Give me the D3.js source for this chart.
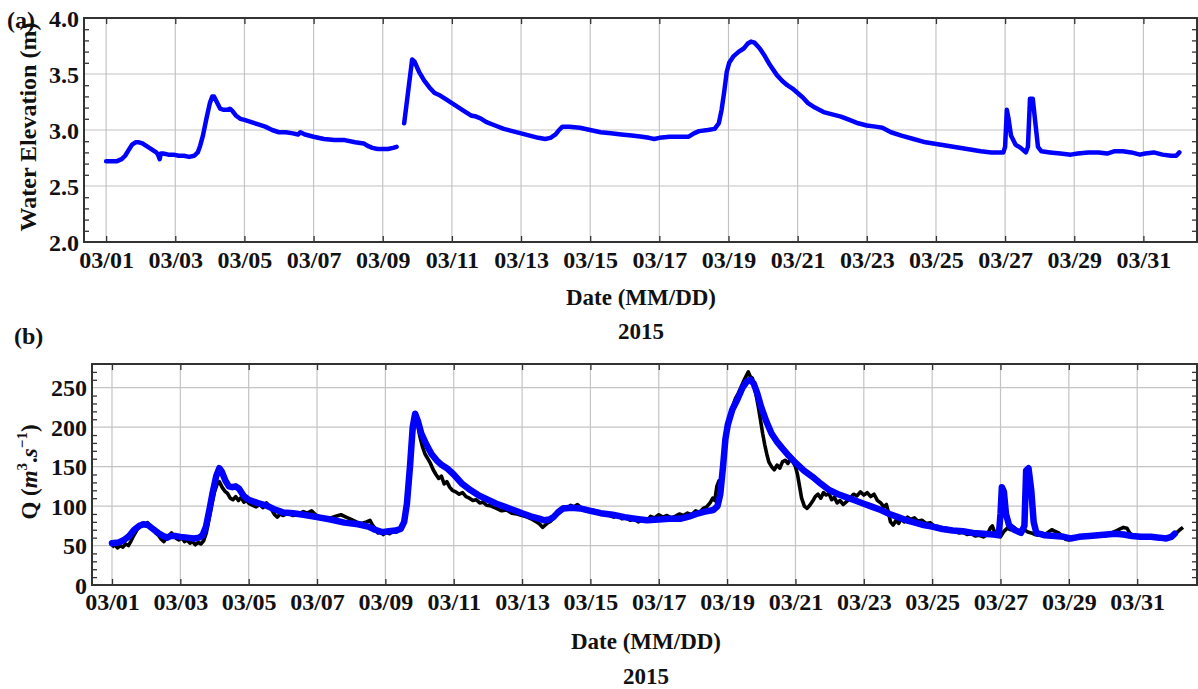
<!DOCTYPE html>
<html><head><meta charset="utf-8">
<script src="https://cdn.jsdelivr.net/npm/d3@7"></script>
<style>
body{margin:0;background:#fff}
svg{display:block}
text{font-family:"Liberation Serif","Times New Roman",serif;font-weight:bold;fill:#111}
</style>
</head><body>
<svg id="c" width="1198" height="689"></svg>
<script>
// ---------------- data ----------------
const dateTickLabels = ["03/01","03/03","03/05","03/07","03/09","03/11","03/13","03/15","03/17","03/19","03/21","03/23","03/25","03/27","03/29","03/31"];
const elevTicks = [2.0, 2.5, 3.0, 3.5, 4.0];
const qTicks = [0, 50, 100, 150, 200, 250];
const yearLabel = "2015";

// days since 03/01 00:00 ; null = gap in record
const elevDays = [0.00,0.15,0.30,0.45,0.55,0.65,0.75,0.85,0.95,1.05,1.15,1.25,1.35,1.45,1.50,1.55,1.58,1.65,1.80,1.95,2.10,2.25,2.40,2.55,2.65,2.72,2.80,2.90,3.00,3.07,3.12,3.20,3.30,3.40,3.50,3.58,3.65,3.75,3.88,4.00,4.20,4.40,4.60,4.80,5.00,5.20,5.40,5.55,5.62,5.75,6.00,6.30,6.60,6.90,7.20,7.45,7.55,7.70,7.85,8.00,8.15,8.30,8.40,
  8.50,
  8.62,8.85,8.92,9.05,9.20,9.35,9.50,9.65,9.80,10.00,10.20,10.40,10.55,10.70,10.85,11.00,11.25,11.50,11.75,12.00,12.25,12.50,12.70,12.85,13.00,13.10,13.20,13.40,13.70,14.00,14.30,14.60,14.90,15.20,15.50,15.70,15.85,16.00,16.30,16.60,16.85,17.00,17.15,17.40,17.60,17.72,17.80,17.88,17.95,18.02,18.15,18.30,18.45,18.55,18.65,18.75,18.90,19.05,19.20,19.40,19.55,19.70,19.85,20.00,20.15,20.30,20.50,20.75,21.00,21.25,21.50,21.75,22.00,22.25,22.45,22.70,23.00,23.35,23.70,24.10,24.50,24.90,25.30,25.60,25.95,26.00,26.05,26.10,26.17,26.30,26.45,26.60,26.66,26.72,26.80,26.88,26.95,27.05,27.30,27.60,27.90,28.10,28.40,28.70,28.95,29.15,29.40,29.65,29.90,30.05,30.30,30.55,30.80,30.95,31.04];
const elevValues = [2.72,2.72,2.72,2.74,2.77,2.82,2.87,2.89,2.89,2.88,2.86,2.84,2.82,2.80,2.78,2.74,2.79,2.79,2.78,2.78,2.77,2.77,2.76,2.77,2.80,2.86,2.95,3.10,3.24,3.30,3.30,3.25,3.19,3.18,3.18,3.19,3.17,3.13,3.10,3.09,3.07,3.05,3.03,3.00,2.98,2.98,2.97,2.96,2.98,2.96,2.94,2.92,2.91,2.91,2.89,2.88,2.86,2.84,2.83,2.83,2.83,2.84,2.85,
  null,
  3.06,3.63,3.61,3.52,3.44,3.38,3.33,3.31,3.28,3.24,3.20,3.16,3.13,3.12,3.10,3.07,3.04,3.01,2.99,2.97,2.95,2.93,2.92,2.93,2.96,3.00,3.03,3.03,3.02,3.00,2.98,2.97,2.96,2.95,2.94,2.93,2.92,2.93,2.94,2.94,2.94,2.97,2.99,3.00,3.01,3.06,3.18,3.35,3.52,3.60,3.66,3.70,3.73,3.77,3.79,3.78,3.73,3.66,3.58,3.49,3.44,3.40,3.37,3.33,3.29,3.24,3.20,3.16,3.14,3.12,3.09,3.06,3.04,3.03,3.02,2.98,2.95,2.92,2.89,2.87,2.85,2.83,2.81,2.80,2.80,2.85,3.18,3.10,2.95,2.87,2.84,2.80,2.85,3.28,3.28,3.05,2.85,2.81,2.80,2.79,2.78,2.79,2.80,2.80,2.79,2.81,2.81,2.80,2.78,2.79,2.80,2.78,2.77,2.77,2.80];

const obsDays = [0.00,0.08,0.16,0.24,0.32,0.40,0.48,0.56,0.64,0.72,0.80,0.88,0.96,1.04,1.12,1.20,1.28,1.36,1.44,1.52,1.58,1.66,1.74,1.80,1.88,1.96,2.04,2.12,2.20,2.28,2.36,2.44,2.52,2.60,2.68,2.76,2.84,2.92,3.00,3.08,3.14,3.22,3.30,3.38,3.46,3.54,3.62,3.70,3.78,3.86,3.94,4.02,4.12,4.22,4.32,4.42,4.52,4.60,4.68,4.76,4.84,4.92,5.00,5.15,5.30,5.45,5.60,5.72,5.84,5.96,6.10,6.25,6.40,6.55,6.70,6.85,7.00,7.15,7.30,7.45,7.55,7.62,7.70,7.78,7.86,7.94,8.02,8.12,8.22,8.32,8.42,8.50,8.58,8.64,8.70,8.76,8.82,8.88,8.94,9.00,9.08,9.16,9.24,9.32,9.40,9.48,9.56,9.64,9.72,9.80,9.88,9.96,10.06,10.16,10.26,10.36,10.46,10.56,10.66,10.76,10.86,10.96,11.10,11.25,11.40,11.55,11.70,11.85,12.00,12.15,12.30,12.42,12.52,12.60,12.68,12.76,12.84,12.92,13.02,13.12,13.22,13.32,13.42,13.52,13.62,13.72,13.84,13.96,14.08,14.20,14.32,14.44,14.56,14.68,14.80,14.92,15.04,15.16,15.28,15.40,15.52,15.64,15.76,15.88,16.00,16.12,16.24,16.36,16.48,16.60,16.72,16.84,16.96,17.08,17.20,17.30,17.40,17.50,17.58,17.64,17.70,17.76,17.82,17.88,17.94,18.00,18.08,18.16,18.24,18.32,18.40,18.48,18.56,18.62,18.68,18.74,18.80,18.86,18.92,18.98,19.04,19.10,19.16,19.22,19.30,19.38,19.46,19.54,19.62,19.70,19.78,19.86,19.94,20.00,20.06,20.12,20.18,20.26,20.34,20.42,20.50,20.58,20.66,20.74,20.82,20.90,20.98,21.06,21.14,21.22,21.30,21.40,21.50,21.60,21.70,21.80,21.90,22.00,22.10,22.20,22.30,22.40,22.50,22.58,22.66,22.72,22.78,22.86,22.94,23.02,23.10,23.18,23.28,23.38,23.48,23.58,23.70,23.82,23.94,24.06,24.18,24.30,24.42,24.54,24.66,24.78,24.90,25.02,25.14,25.26,25.38,25.50,25.62,25.70,25.76,25.82,25.90,26.00,26.10,26.20,26.30,26.40,26.50,26.60,26.70,26.80,26.90,27.00,27.10,27.20,27.30,27.40,27.50,27.60,27.70,27.80,27.90,28.00,28.10,28.20,28.30,28.45,28.60,28.75,28.90,29.05,29.20,29.30,29.40,29.50,29.60,29.70,29.78,29.86,29.94,30.05,30.20,30.35,30.50,30.65,30.80,30.95,31.05,31.15,31.25,31.34];
const obsValues = [48,51,47,50,48,52,50,56,63,69,74,78,76,79,75,71,66,63,58,55,59,62,66,63,59,57,60,55,57,53,55,51,54,52,56,66,84,102,118,128,131,124,119,116,110,108,112,107,111,105,107,103,101,99,102,98,104,100,95,89,86,90,88,91,88,90,93,91,94,89,86,84,85,87,89,86,83,80,78,80,82,76,72,66,69,64,67,65,68,67,71,76,85,100,128,165,195,212,204,190,176,166,160,154,146,140,135,138,128,131,124,120,118,115,117,112,110,107,108,104,105,101,100,97,94,95,91,90,88,86,83,80,77,73,76,79,81,85,90,95,99,97,101,99,102,98,97,94,95,92,90,91,88,86,89,84,85,82,84,80,83,81,87,85,89,86,88,85,87,90,88,91,89,94,92,97,99,104,110,107,125,132,122,150,178,195,212,226,236,242,250,258,265,270,264,262,250,238,224,208,192,178,166,156,150,146,152,148,156,158,154,160,155,150,140,125,110,100,97,101,106,112,115,110,117,114,116,108,111,104,107,102,106,110,115,113,118,114,117,112,115,107,104,99,102,92,80,76,82,78,84,80,86,83,85,81,82,78,79,75,74,71,72,68,69,66,67,64,65,62,63,61,64,72,75,68,63,61,68,72,70,73,68,66,70,67,66,64,63,66,64,67,70,68,66,62,58,57,60,61,60,62,63,62,64,62,64,67,69,71,73,72,66,63,61,62,61,60,61,60,59,60,64,66,70,73];

const modelDays = [0.00,0.20,0.35,0.50,0.65,0.80,0.92,1.05,1.20,1.35,1.50,1.62,1.70,1.85,2.00,2.20,2.40,2.55,2.65,2.75,2.85,2.95,3.05,3.14,3.22,3.32,3.42,3.52,3.62,3.72,3.85,4.00,4.25,4.50,4.75,5.00,5.30,5.60,6.00,6.40,6.80,7.20,7.50,7.70,7.90,8.10,8.30,8.45,8.55,8.63,8.72,8.80,8.87,8.95,9.05,9.20,9.35,9.50,9.65,9.80,10.00,10.25,10.50,10.75,11.00,11.25,11.50,11.75,12.00,12.25,12.50,12.65,12.80,12.92,13.05,13.20,13.45,13.70,14.00,14.30,14.65,15.00,15.30,15.65,16.00,16.30,16.65,16.90,17.10,17.35,17.60,17.72,17.80,17.88,17.95,18.02,18.15,18.30,18.45,18.58,18.68,18.78,18.88,19.00,19.15,19.30,19.45,19.60,19.80,20.00,20.25,20.50,20.75,21.00,21.25,21.50,21.75,22.00,22.25,22.50,22.75,23.00,23.25,23.50,23.75,24.00,24.30,24.60,24.90,25.20,25.50,25.80,25.95,26.00,26.04,26.10,26.16,26.25,26.40,26.60,26.70,26.75,26.82,26.90,26.97,27.05,27.30,27.60,27.85,28.05,28.30,28.60,28.85,29.10,29.35,29.60,29.85,30.10,30.40,30.65,30.85,31.00,31.10];
const modelValues = [53,54,57,62,70,75,77,76,71,66,62,60,62,62,61,60,59,60,63,74,95,118,138,148,143,132,125,124,125,122,113,108,104,101,96,92,91,89,86,83,79,77,74,70,67,68,69,71,80,103,150,200,217,208,192,178,166,158,152,148,140,128,120,113,108,103,99,95,91,87,84,82,83,86,92,97,98,97,94,91,89,86,84,82,83,84,84,87,90,93,95,100,115,150,185,203,222,235,250,258,260,255,243,225,207,192,182,174,164,155,145,137,128,120,115,111,107,103,99,95,90,86,82,79,76,74,71,69,68,66,65,64,63,90,124,118,90,76,70,66,75,145,148,120,80,66,63,62,61,59,61,62,63,64,65,64,62,61,61,60,59,61,65];

// ---------------- drawing ----------------
const svg = d3.select("#c");
const FS = 24;

function panel(cfg){
  const {L,R,T,B,xDom,yDom,yTicks,yMinor,yFmt,xPad} = cfg;
  const x = d3.scaleLinear().domain(xDom).range([L,R]);
  const y = d3.scaleLinear().domain(yDom).range([B,T]);
  const tickDays = dateTickLabels.map(s=>+s.split("/")[1]-1);
  const g = svg.append("g");

  // grid
  g.append("g").selectAll("line").data(tickDays).join("line")
    .attr("x1",d=>x(d)).attr("x2",d=>x(d)).attr("y1",T).attr("y2",B)
    .attr("stroke","#c4c4c4").attr("stroke-width",1.2);
  g.append("g").selectAll("line").data(yTicks).join("line")
    .attr("x1",L).attr("x2",R).attr("y1",d=>y(d)).attr("y2",d=>y(d))
    .attr("stroke","#c4c4c4").attr("stroke-width",1.2);

  cfg.draw(g,x,y);

  // axes with inward ticks
  const tcol="#333";
  const left = g.append("g").attr("transform",`translate(${L},0)`)
    .call(d3.axisLeft(y).tickValues(yTicks).tickSize(0).tickPadding(5).tickFormat(yFmt));
  const leftMinor = g.append("g").attr("transform",`translate(${L},0)`)
    .call(d3.axisRight(y).tickValues(yMinor).tickSize(5).tickFormat(""));
  const rightMinor = g.append("g").attr("transform",`translate(${R},0)`)
    .call(d3.axisLeft(y).tickValues(yMinor).tickSize(5).tickFormat(""));
  const bottom = g.append("g").attr("transform",`translate(0,${B})`)
    .call(d3.axisBottom(x).tickValues(tickDays).tickSize(0).tickPadding(xPad).tickFormat((d,i)=>dateTickLabels[i]));
  const bottomT = g.append("g").attr("transform",`translate(0,${B})`)
    .call(d3.axisTop(x).tickValues(tickDays).tickSize(6).tickFormat(""));
  const topT = g.append("g").attr("transform",`translate(0,${T})`)
    .call(d3.axisBottom(x).tickValues(tickDays).tickSize(6).tickFormat(""));
  [left,leftMinor,rightMinor,bottom,bottomT,topT].forEach(a=>{
    a.select(".domain").remove();
    a.selectAll("line").attr("stroke",tcol).attr("stroke-width",1.3);
    a.selectAll("text").attr("font-family","Liberation Serif, serif").attr("font-weight","bold")
      .attr("font-size",FS).attr("fill","#111");
  });
  bottom.selectAll("text").attr("dy","0.72em");
  left.selectAll("text").attr("dy","0.34em");

  // frame
  g.append("rect").attr("x",L).attr("y",T).attr("width",R-L).attr("height",B-T)
    .attr("fill","none").attr("stroke","#333").attr("stroke-width",2);
  return {x,y};
}

// panel (a)
panel({
  L:84,R:1197,T:18,B:242, xPad:9,
  xDom:[-0.64,31.55], yDom:[2,4],
  yTicks:elevTicks, yMinor:d3.range(2.1,4.0,0.1).filter(v=>Math.abs(v*2-Math.round(v*2))>1e-6),
  yFmt:d3.format(".1f"),
  draw:(g,x,y)=>{
    const line = d3.line().defined((d,i)=>elevValues[i]!==null)
      .x((d,i)=>x(elevDays[i])).y((d,i)=>y(elevValues[i]));
    g.append("path").attr("d",line(elevDays)).attr("fill","none")
      .attr("stroke","#0000ff").attr("stroke-width",4.5).attr("stroke-linejoin","round").attr("stroke-linecap","round");
  }
});

// panel (b)
panel({
  L:92,R:1197,T:364,B:585, xPad:8,
  xDom:[-0.585,31.75], yDom:[0,280],
  yTicks:qTicks, yMinor:d3.range(10,280,10).filter(v=>v%50!==0),
  yFmt:d3.format("d"),
  draw:(g,x,y)=>{
    const lo = d3.line().x((d,i)=>x(obsDays[i])).y((d,i)=>y(obsValues[i]));
    g.append("path").attr("d",lo(obsDays)).attr("fill","none")
      .attr("stroke","#000").attr("stroke-width",3.6).attr("stroke-linejoin","round");
    const lm = d3.line().x((d,i)=>x(modelDays[i])).y((d,i)=>y(modelValues[i]));
    g.append("path").attr("d",lm(modelDays)).attr("fill","none")
      .attr("stroke","#0000ff").attr("stroke-width",6.5).attr("stroke-linejoin","round").attr("stroke-linecap","round");
  }
});

// titles & labels
function t(x,y,s,opt={}){
  const e=svg.append("text").attr("x",x).attr("y",y).attr("font-size",opt.size||23)
    .attr("text-anchor",opt.anchor||"middle").text(s);
  if(opt.rot) e.attr("transform",`rotate(-90,${x},${y})`);
  return e;
}
t(7,28,"(a)",{anchor:"start",size:24});
t(14,344,"(b)",{anchor:"start",size:24});
t(36,127,"Water Elevation (m)",{rot:true,size:24});
t(641,305,"Date (MM/DD)");
t(641,339,yearLabel);
t(646,649,"Date (MM/DD)");
t(646,684,yearLabel);

// Q label
const q = svg.append("text").attr("x",37).attr("y",472).attr("font-size",23)
  .attr("text-anchor","middle").attr("transform","rotate(-90,37,472)");
q.append("tspan").text("Q (");
q.append("tspan").attr("font-style","italic").text("m");
q.append("tspan").attr("font-size",15).attr("dy",-10).text("3");
q.append("tspan").attr("dy",10).text(".");
q.append("tspan").attr("font-style","italic").text("s");
q.append("tspan").attr("font-size",15).attr("dy",-10).text("\u22121");
q.append("tspan").attr("dy",10).text(")");
</script>
</body></html>
